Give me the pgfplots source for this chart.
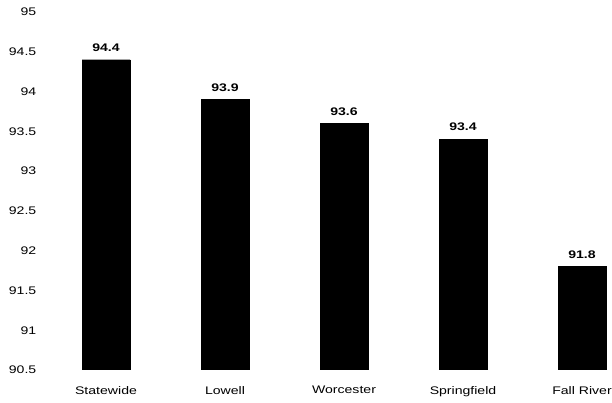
\documentclass[border=0pt]{standalone}
\usepackage{fontspec}
\setmainfont{Liberation Sans}[FakeStretch=1.28]
\usepackage{pgfplots}
\pgfplotsset{compat=1.18}
\begin{document}
\begin{tikzpicture}
\begin{axis}[
  scale only axis,
  width=561.7pt, height=358pt,
  xmin=-0.5, xmax=4.22,
  ymin=90.5, ymax=95,
  ytick={90.5,91,91.5,92,92.5,93,93.5,94,94.5,95},
  xtick={0,1,2,3,4},
  xticklabels={Statewide,Lowell,Worcester,Springfield,Fall River},
  axis line style={draw=none},
  major tick length=0pt,
  /pgf/number format/assume math mode=true,
  tick label style={font=\fontsize{11}{13}\selectfont},
  yticklabel style={inner sep=0pt, xshift=-10pt},
  xticklabel style={inner sep=0pt, yshift=-16pt},
  ybar, bar width=48pt,
  nodes near coords,
  every node near coord/.append style={font=\fontsize{11}{13}\selectfont\bfseries, inner sep=0pt, yshift=8pt},
]
\addplot[fill=black, draw=black] coordinates {(0,94.4) (1,93.9) (2,93.6) (3,93.4) (4,91.8)};
\coordinate (O) at (rel axis cs:0,0);
\end{axis}
\path ([shift={(-46.5pt,-33pt)}]O) rectangle ++(612pt,403pt);
\end{tikzpicture}
\end{document}
